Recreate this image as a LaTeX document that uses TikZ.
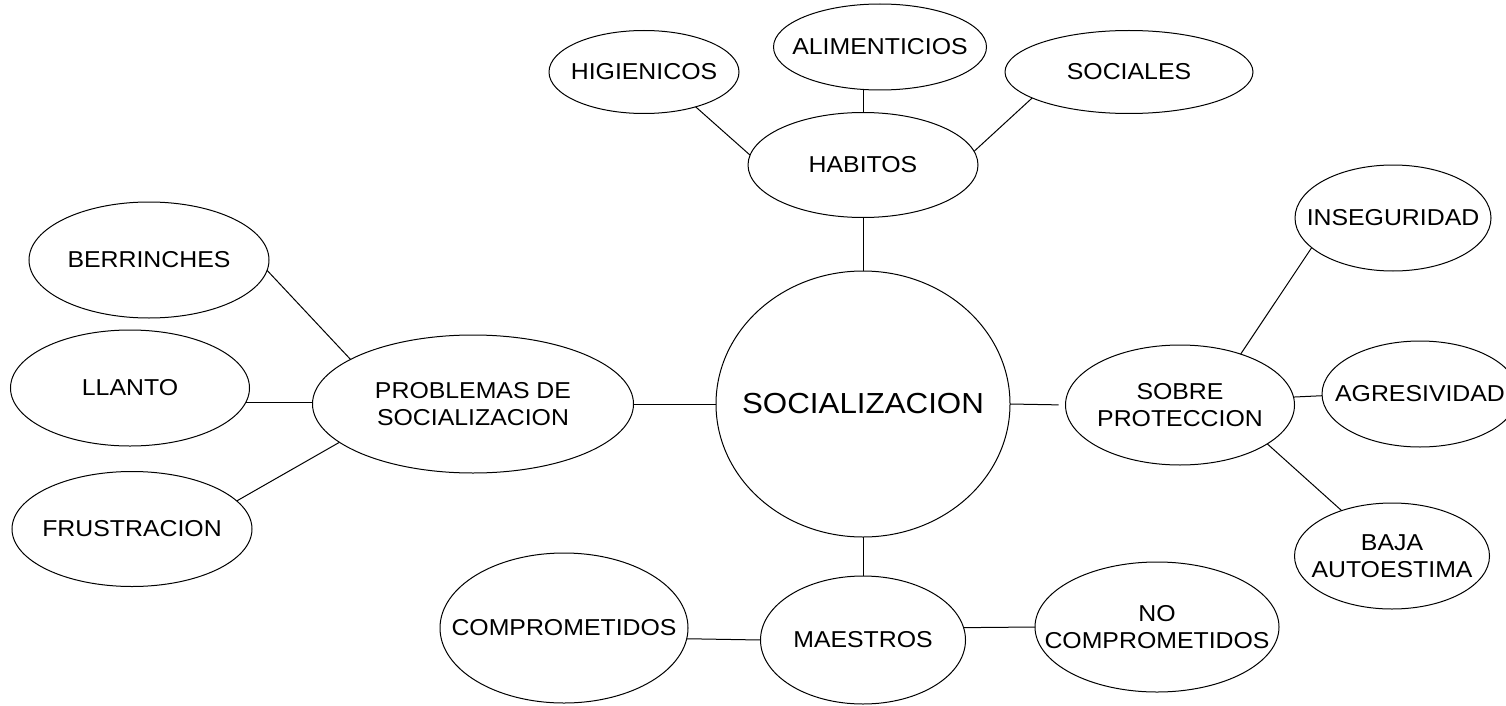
\documentclass[tikz,border=0pt]{standalone}
\usepackage{fontspec}
\setmainfont{Liberation Sans}[FakeStretch=1.08]
\usetikzlibrary{shapes.geometric}

\tikzset{
  oval/.style={ellipse, draw, line width=1pt, inner xsep=-200pt, inner ysep=-100pt,
    outer sep=0pt, align=center, font=\fontsize{23}{27.5}\selectfont},
  link/.style={line width=1pt}
}

\begin{document}
\begin{tikzpicture}[x=1pt, y=-1pt]
  \useasboundingbox (0,0) rectangle (1506,706);

  % Center
  \node[oval, minimum width=294pt, minimum height=266pt, font=\fontsize{29}{34}\selectfont] (soc) at (863,404) {SOCIALIZACION};

  % Habitos and its branches
  \node[oval, minimum width=230pt, minimum height=105pt] (habitos) at (863,165) {HABITOS};
  \node[oval, minimum width=190pt, minimum height=83pt] (higienicos) at (644,72) {HIGIENICOS};
  \node[oval, minimum width=213pt, minimum height=86pt] (alimenticios) at (880,47) {ALIMENTICIOS};
  \node[oval, minimum width=248pt, minimum height=83pt] (sociales) at (1129,72) {SOCIALES};

  % Problemas de socializacion and its branches
  \node[oval, minimum width=321pt, minimum height=138pt] (problemas) at (473,404) {PROBLEMAS DE\\SOCIALIZACION};
  \node[oval, minimum width=240pt, minimum height=116pt] (berrinches) at (149,260) {BERRINCHES};
  \node[oval, minimum width=239pt, minimum height=116pt] (llanto) at (130,388) {LLANTO};
  \node[oval, minimum width=240pt, minimum height=115pt] (frustracion) at (132,529) {FRUSTRACION};

  % Sobre proteccion and its branches
  \node[oval, minimum width=229pt, minimum height=120pt] (sobre) at (1180,405) {SOBRE\\PROTECCION};
  \node[oval, minimum width=196pt, minimum height=106pt] (inseguridad) at (1393,218) {INSEGURIDAD};
  \node[oval, minimum width=196pt, minimum height=106pt] (agresividad) at (1420,394) {AGRESIVIDAD};
  \node[oval, minimum width=195pt, minimum height=106pt] (baja) at (1392,556) {BAJA\\AUTOESTIMA};

  % Maestros and its branches
  \node[oval, minimum width=205pt, minimum height=128pt] (maestros) at (863,640) {MAESTROS};
  \node[oval, minimum width=248pt, minimum height=150pt] (comprometidos) at (564,628) {COMPROMETIDOS};
  \node[oval, minimum width=244pt, minimum height=130pt] (nocomp) at (1157,627) {NO\\COMPROMETIDOS};

  % Connectors
  \draw[link] (higienicos.-34) -- (habitos.175);
  \draw[link] (habitos.north) -- (alimenticios.south -| habitos.north);
  \draw[link] (sociales.-165) -- (habitos.7.6);
  \draw[link] (habitos.south) -- (soc.north);

  \draw[link] (berrinches.-5.2) -- (problemas.160.5);
  \draw[link] (llanto.-7.2) -- (llanto.-7.2 -| problemas.west);
  \draw[link] (frustracion.15.9) -- (problemas.-164.5);
  \draw[link] (problemas.east) -- (soc.west);

  \draw[link, shorten >=7pt] (soc.east) -- (sobre.west);
  \draw[link] (sobre.40.1) -- (inseguridad.-160);
  \draw[link] (sobre.4.2) -- (agresividad.181.6);
  \draw[link] (sobre.-24.2) -- (baja.138);

  \draw[link] (soc.south) -- (maestros.north);
  \draw[link] (comprometidos.-5.6) -- (maestros.west);
  \draw[link] (maestros.7) -- (nocomp.west);

\end{tikzpicture}
\end{document}
